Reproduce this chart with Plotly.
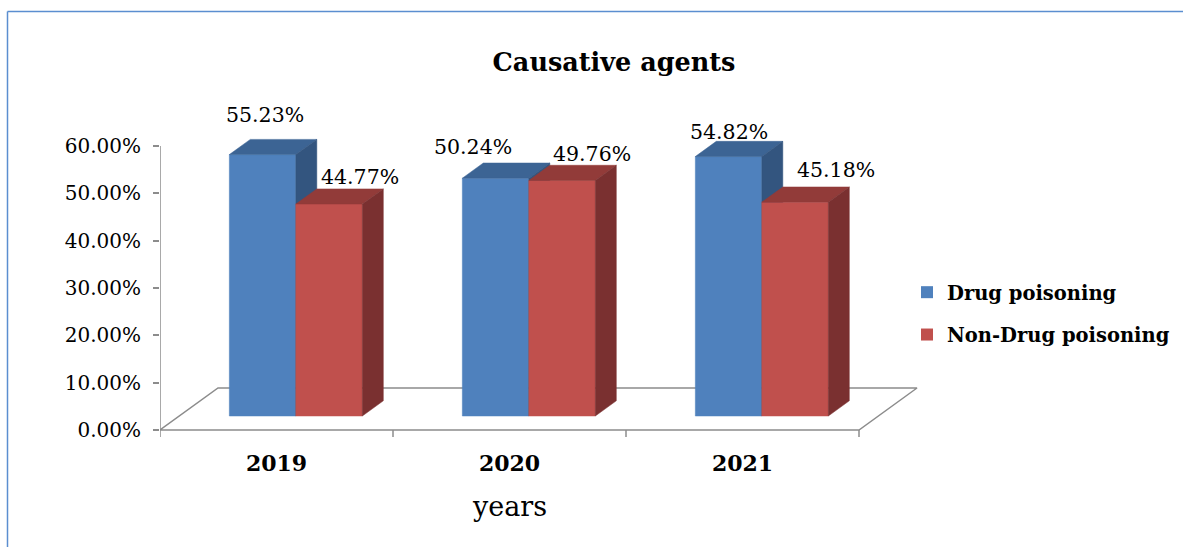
import plotly.graph_objects as go

# ---------------- data ----------------
years = ["2019", "2020", "2021"]
drug = [55.23, 50.24, 54.82]
non_drug = [44.77, 49.76, 45.18]
series_names = ["Drug poisoning", "Non-Drug poisoning"]
y_ticks = [0, 10, 20, 30, 40, 50, 60]
y_tick_labels = ["0.00%", "10.00%", "20.00%", "30.00%", "40.00%", "50.00%", "60.00%"]

# ---------------- style ----------------
W, H = 1183, 547
ML, MR, MT, MB = 160, 264, 100, 110
PX_PER_CAT = 233.0
PX_PER_PCT = 284.0 / 60.0
plot_w = W - ML - MR
plot_h = H - MT - MB
x_range = [-0.5, -0.5 + plot_w / PX_PER_CAT]
y_top = (430 - MT) / PX_PER_PCT
y_bot = -(H - MB - 430) / PX_PER_PCT
y_range = [y_bot, y_top]

DX = 58 / PX_PER_CAT          # full floor depth, x (data units)
DY = 42 / PX_PER_PCT          # full floor depth, y (data units)
D0, D1 = 1 / 3, 0.695         # bar depth start / end
BW = 66.5 / PX_PER_CAT        # bar width

front_cols = ["#4F81BD", "#C0504D"]
top_cols = ["#3C6494", "#923B39"]
side_cols = ["#33557F", "#7A3030"]
grid_col = "#8C8C8C"
SERIF = "DejaVu Serif"

# label offsets (px) from the top-front centre of each bar
label_shift = [
    [(2, 40), (-23, 31), (0, 25)],
    [(31, 27), (30, 26), (41, 32)],
]

fig = go.Figure()

# floor
fx = [-0.5, 2.5, 2.5 + DX, -0.5 + DX, -0.5]
fy = [0, 0, DY, DY, 0]
fig.add_trace(go.Scatter(x=fx, y=fy, mode="lines", line=dict(color=grid_col, width=1.5),
                         showlegend=False, hoverinfo="skip"))
# y axis line
fig.add_trace(go.Scatter(x=[-0.5, -0.5], y=[0, y_ticks[-1]], mode="lines",
                         line=dict(color=grid_col, width=1.5), showlegend=False, hoverinfo="skip"))
# x boundary ticks
tx, ty = [], []
for b in [-0.5, 0.5, 1.5, 2.5]:
    tx += [b, b, None]
    ty += [0, y_bot, None]
fig.add_trace(go.Scatter(x=tx, y=ty, mode="lines", line=dict(color=grid_col, width=1.5),
                         showlegend=False, hoverinfo="skip"))


def poly(xs, ys, col):
    fig.add_trace(go.Scatter(x=xs + [xs[0]], y=ys + [ys[0]], mode="lines", fill="toself",
                             fillcolor=col, line=dict(color=col, width=0.5),
                             showlegend=False, hoverinfo="skip"))


values = [drug, non_drug]
annotations = []
for i in range(len(years)):
    for s in range(2):
        v = values[s][i]
        x0 = i + D0 * DX - BW + s * BW
        x1 = x0 + BW
        y0 = D0 * DY
        ddx = (D1 - D0) * DX
        ddy = (D1 - D0) * DY
        # front
        poly([x0, x1, x1, x0], [y0, y0, y0 + v, y0 + v], front_cols[s])
        # top
        poly([x0, x1, x1 + ddx, x0 + ddx], [y0 + v, y0 + v, y0 + v + ddy, y0 + v + ddy], top_cols[s])
        # side
        poly([x1, x1 + ddx, x1 + ddx, x1], [y0, y0 + ddy, y0 + v + ddy, y0 + v], side_cols[s])
        xs_, ys_ = label_shift[s][i]
        annotations.append(dict(x=(x0 + x1) / 2, y=y0 + v, xref="x", yref="y",
                                text=f"{v:.2f}%", showarrow=False, xshift=xs_, yshift=ys_,
                                xanchor="center", yanchor="middle",
                                font=dict(family=SERIF, size=20.5, color="#000000")))

# legend entries
for s in range(2):
    fig.add_trace(go.Scatter(x=[None], y=[None], mode="markers", name=f"<b>{series_names[s]}</b>",
                             marker=dict(symbol="square", size=12, color=front_cols[s]),
                             legendgroup=f"g{s}"))


def px_to_paper_x(px):
    return (px - ML) / plot_w


def px_to_paper_y(py):
    return (H - MB - py) / plot_h


# axis title "years" under the middle category
annotations.append(dict(x=1, xref="x", y=px_to_paper_y(506), yref="paper", text="years",
                        showarrow=False, xanchor="center", yanchor="middle",
                        font=dict(family=SERIF, size=27, color="#000000")))

# blue border (left + top)
shapes = [
    dict(type="line", xref="paper", yref="paper", x0=px_to_paper_x(7.5), x1=px_to_paper_x(W + 5),
         y0=px_to_paper_y(11.5), y1=px_to_paper_y(11.5), line=dict(color="#5B8ED0", width=1.5)),
    dict(type="line", xref="paper", yref="paper", x0=px_to_paper_x(7.5), x1=px_to_paper_x(7.5),
         y0=px_to_paper_y(11.5), y1=px_to_paper_y(H + 5), line=dict(color="#5B8ED0", width=1.5)),
]

fig.update_layout(
    width=W, height=H,
    margin=dict(l=ML, r=MR, t=MT, b=MB, autoexpand=False),
    paper_bgcolor="white", plot_bgcolor="white",
    hovermode=False,
    title=dict(text="<b>Causative agents</b>", x=614 / W, xanchor="center",
               y=1 - 62 / H, yanchor="middle",
               font=dict(family=SERIF, size=25.5, color="#000000")),
    xaxis=dict(range=x_range, showgrid=False, zeroline=False, showline=False,
               tickvals=[0, 1, 2], ticktext=[f"<b>{y}</b>" for y in years], ticks="",
               tickfont=dict(family=SERIF, size=22, color="#000000"),
               ticklabelstandoff=11, fixedrange=True),
    yaxis=dict(range=y_range, showgrid=False, zeroline=False, showline=False,
               tickvals=y_ticks, ticktext=y_tick_labels, ticks="outside", ticklen=6,
               tickcolor=grid_col, tickwidth=1.5,
               tickfont=dict(family=SERIF, size=20, color="#000000"),
               ticklabelstandoff=8, fixedrange=True),
    legend=dict(x=px_to_paper_x(907), y=px_to_paper_y(273), xanchor="left", yanchor="top",
                font=dict(family=SERIF, size=19.5, color="#000000"), tracegroupgap=14,
                bgcolor="rgba(0,0,0,0)"),
    annotations=annotations,
    shapes=shapes,
)

fig.write_html("out.html")
